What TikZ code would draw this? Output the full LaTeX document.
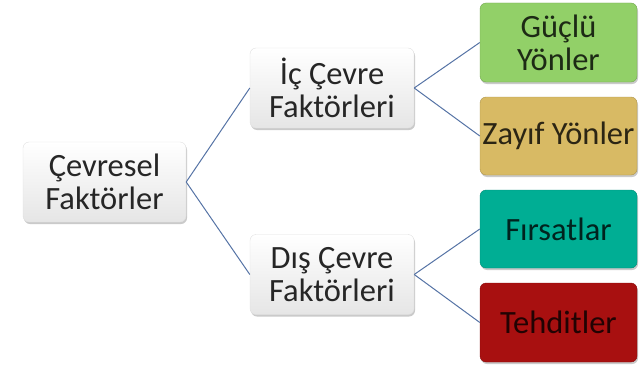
\documentclass[tikz,border=0pt]{standalone}
\usepackage{fontspec}
\setmainfont{Carlito}
\usetikzlibrary{shadows}
\definecolor{cgreen}{RGB}{146,208,104}
\definecolor{cgold}{RGB}{216,186,100}
\definecolor{cteal}{RGB}{0,174,148}
\definecolor{cred}{RGB}{168,16,16}
\definecolor{cline}{RGB}{85,115,165}
\tikzset{
  x=1pt,y=-1pt,
  box/.style={rounded corners=6pt, align=center, inner sep=0pt,
    font=\fontsize{32.5}{33}\selectfont,
    drop shadow={shadow xshift=1pt, shadow yshift=-2pt, opacity=0.35, fill=black!60}},
  wbox/.style={box, top color=white, bottom color=black!10, draw=black!12, text=black!85},
  cbox/.style={box, fill=#1, draw=#1!80!black, text=#1!20!black},
  conn/.style={draw=cline, line width=1pt}
}
\begin{document}
\begin{tikzpicture}
\useasboundingbox (0,0) rectangle (639,369);
\node[wbox, minimum width=163, minimum height=80] (root) at (104.5,182) {Çevresel\\Faktörler};
\node[wbox, minimum width=164, minimum height=80] (ic) at (332,88) {İç Çevre\\Faktörleri};
\node[wbox, minimum width=164, minimum height=80] (dis) at (332,274.5) {Dış Çevre\\Faktörleri};
\node[cbox=cgreen, minimum width=157, minimum height=79] (guclu) at (558.5,42.5) {Güçlü\\Yönler};
\node[cbox=cgold, minimum width=157, minimum height=78] (zayif) at (558.5,136) {Zayıf Yönler};
\node[cbox=cteal, minimum width=157, minimum height=78] (firsat) at (558.5,229) {Fırsatlar};
\node[cbox=cred, minimum width=157, minimum height=79] (tehdit) at (558.5,322.5) {Tehditler};
\draw[conn] (root.east) -- (ic.west);
\draw[conn] (root.east) -- (dis.west);
\draw[conn] (ic.east) -- (guclu.west);
\draw[conn] (ic.east) -- (zayif.west);
\draw[conn] (dis.east) -- (firsat.west);
\draw[conn] (dis.east) -- (tehdit.west);
\end{tikzpicture}
\end{document}
